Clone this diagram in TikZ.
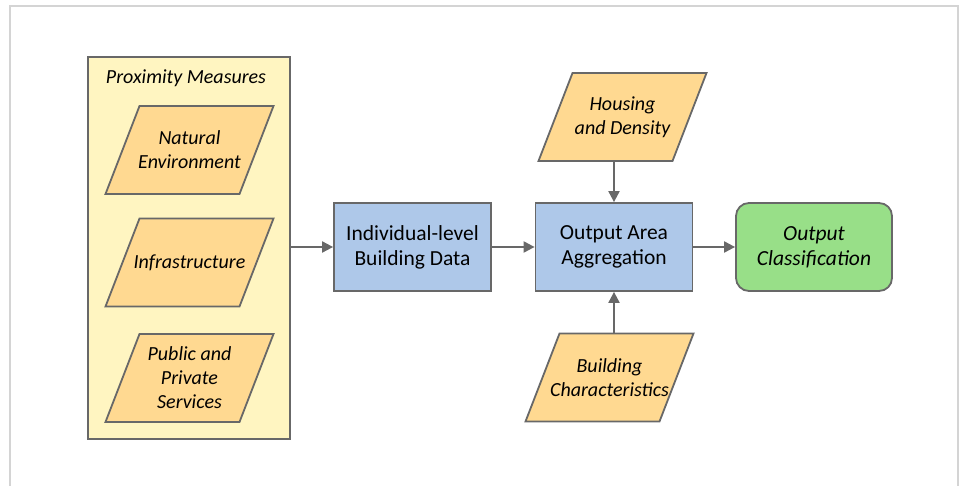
\documentclass[tikz,border=0pt]{standalone}
\usepackage{fontspec}
\setmainfont{Carlito}
\usetikzlibrary{arrows.meta}
\definecolor{framec}{HTML}{D4D4D4}
\definecolor{edgec}{HTML}{686868}
\definecolor{yelc}{HTML}{FFF5C1}
\definecolor{orgc}{HTML}{FFD991}
\definecolor{bluc}{HTML}{AEC8E9}
\definecolor{grnc}{HTML}{98DF88}
\tikzset{
  boxtext/.style={font=\fontsize{21.5}{25}\selectfont, align=center},
  container/.style={draw=edgec, fill=yelc, line width=1.8pt, minimum width=202pt, minimum height=382pt, inner sep=0pt},
  procbox/.style={boxtext, draw=edgec, fill=bluc, line width=1.8pt, minimum width=157pt, minimum height=88pt, inner sep=0pt},
  termbox/.style={boxtext, font=\fontsize{21.5}{25}\selectfont\itshape, draw=edgec, fill=grnc, line width=1.8pt, rounded corners=13pt, minimum width=156pt, minimum height=88pt, inner sep=0pt},
  paratext/.style={font=\fontsize{20}{24}\selectfont\itshape, align=center, minimum width=134pt, minimum height=88pt, inner sep=0pt},
  parashape/.style={draw=edgec, fill=orgc, line width=1.8pt, line join=miter},
  conn/.style={draw=edgec, line width=2pt, -{Triangle[length=11pt,width=11pt]}},
}
\newcommand{\paranode}[4]{%
  \path[parashape] (#2-50,#3-44) -- (#2+84,#3-44) -- (#2+50,#3+44) -- (#2-84,#3+44) -- cycle;
  \node[paratext] (#1) at (#2,#3) {#4};
}
\begin{document}
\begin{tikzpicture}[x=1pt,y=-1pt]
\useasboundingbox (0,0) rectangle (960,486);
\draw[framec, line width=1.5pt] (10,492) -- (10,6) -- (958,6) -- (958,492);

\node[container] (prox) at (189,248) {};
\node[font=\fontsize{20}{24}\selectfont\itshape] (proxtitle) at (186,78) {Proximity Measures};

\paranode{nat}{189.5}{150}{Natural\\Environment}
\paranode{inf}{189.5}{262.5}{Infrastructure}
\paranode{pub}{189.5}{378}{Public and\\Private\\Services}

\node[procbox] (ind) at (412.5,247) {Individual-level\\Building Data};
\node[procbox] (oa) at (614,247) {Output Area\\Aggregation};
\node[termbox] (oc) at (814,247) {Output\\Classification};

\paranode{hd}{622.5}{117}{Housing\\and Density}
\paranode{bc}{609.5}{377.5}{Building\\Characteristics}

\draw[conn] (prox.east |- ind.west) -- (ind.west);
\draw[conn] (ind.east) -- (oa.west);
\draw[conn] (oa.east) -- (oc.west);
\draw[conn] (hd.south -| oa.north) -- (oa.north);
\draw[conn] (bc.north -| oa.south) -- (oa.south);
\end{tikzpicture}
\end{document}
